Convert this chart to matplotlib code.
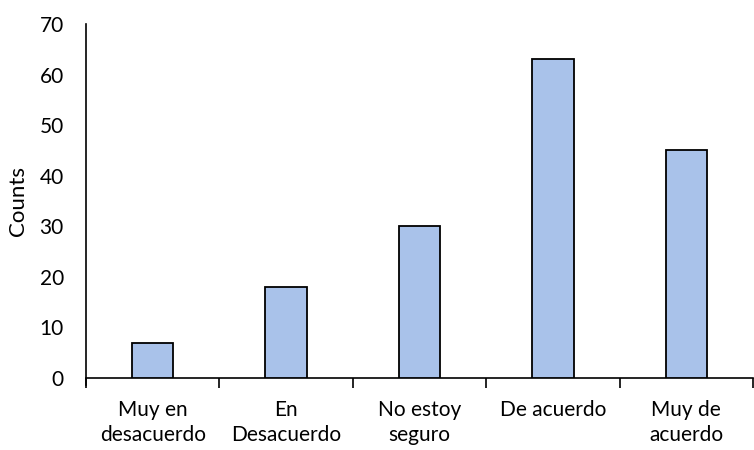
import matplotlib
matplotlib.use("Agg")
import matplotlib.pyplot as plt
import numpy as np

categories = ["Muy en\ndesacuerdo", "En\nDesacuerdo", "No estoy\nseguro", "De acuerdo", "Muy de\nacuerdo"]
counts = [7, 18, 30, 63, 45]
yticks = [0, 10, 20, 30, 40, 50, 60, 70]

plt.rcParams['font.family'] = ['Lato', 'DejaVu Sans']

fig = plt.figure(figsize=(7.54, 4.50), dpi=100)
ax = fig.add_axes([86/754, 1-378/450, (753-86)/754, (378-24)/450])

x = np.arange(len(categories))
ax.bar(x, counts, width=0.31, color="#A9C2EA", edgecolor="black", linewidth=1.3, zorder=3)

ax.set_xlim(-0.5, len(categories) - 0.5)
ax.set_ylim(0, 70)
ax.set_yticks(yticks)
ax.tick_params(axis='y', length=0, labelsize=15, pad=16)
ax.set_xticks(x)
ax.set_xticklabels(categories, fontsize=15, linespacing=1.3)
ax.tick_params(axis='x', length=0, pad=16)
ax.set_xticks(np.arange(-0.5, len(categories)), minor=True)
ax.tick_params(axis='x', which='minor', length=7, width=1.2, direction='out')
ax.set_ylabel("Counts", fontsize=16, labelpad=8)

for s in ['top', 'right']:
    ax.spines[s].set_visible(False)
ax.spines['left'].set_linewidth(1.2)
ax.spines['bottom'].set_linewidth(1.2)
ax.spines['left'].set_bounds(-1.4, 70)

fig.savefig("out.png", dpi=100)
